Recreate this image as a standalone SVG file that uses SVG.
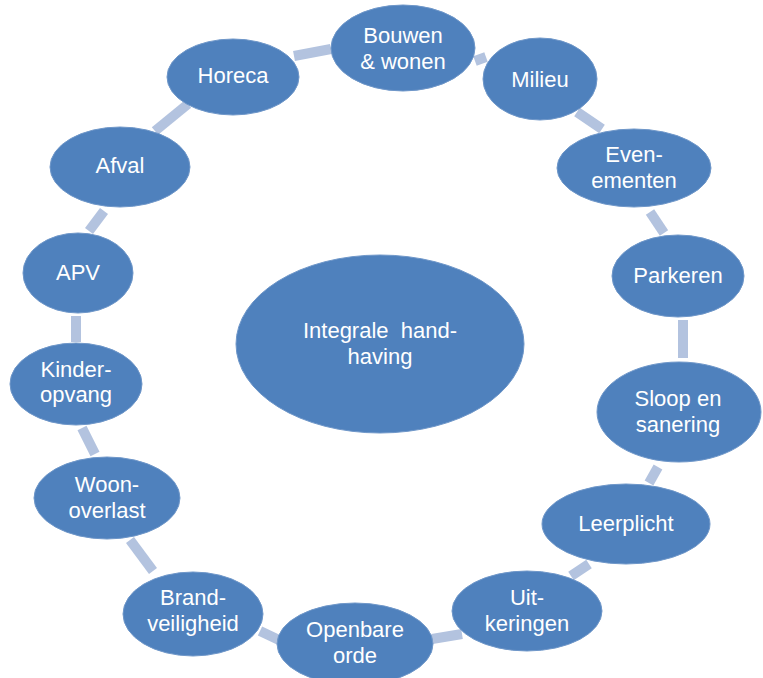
<svg xmlns="http://www.w3.org/2000/svg" width="763" height="678" viewBox="0 0 763 678">
<style>
.n{fill:#4f81bd;stroke:#6f97c9;stroke-width:1}
.t{fill:#ffffff;font-family:"Liberation Sans",Arial,sans-serif;font-size:22px;text-anchor:middle;white-space:pre}
.c line{stroke:#b3c3df;stroke-width:10;stroke-linecap:butt}
</style>
<rect width="763" height="678" fill="#ffffff"/>
<g class="c" id="connectors">
<line x1="294" y1="56" x2="331" y2="49"/>
<line x1="475" y1="61" x2="486" y2="57"/>
<line x1="577" y1="112" x2="602" y2="129"/>
<line x1="650" y1="212" x2="664" y2="233"/>
<line x1="683" y1="320" x2="683" y2="358"/>
<line x1="658" y1="467" x2="649" y2="483"/>
<line x1="589" y1="564" x2="571" y2="576"/>
<line x1="432" y1="639" x2="462" y2="634"/>
<line x1="260" y1="631" x2="279" y2="640"/>
<line x1="130" y1="540" x2="153" y2="571"/>
<line x1="82" y1="428" x2="95" y2="454"/>
<line x1="76" y1="316" x2="76" y2="342"/>
<line x1="89" y1="231" x2="104" y2="211"/>
<line x1="155" y1="131" x2="188" y2="104"/>
</g>
<g id="center"><ellipse class="n" cx="380" cy="344" rx="144" ry="89"/><text class="t" x="380" y="338">Integrale  hand-</text><text class="t" x="380" y="364">having</text></g>
<g id="bouwen"><ellipse class="n" cx="403" cy="48" rx="72" ry="43"/><text class="t" x="403" y="43">Bouwen</text><text class="t" x="403" y="69">&amp; wonen</text></g>
<g id="milieu"><ellipse class="n" cx="540" cy="79" rx="57" ry="41"/><text class="t" x="540" y="87">Milieu</text></g>
<g id="evenementen"><ellipse class="n" cx="634" cy="168" rx="77" ry="39"/><text class="t" x="634" y="162">Even-</text><text class="t" x="634" y="188">ementen</text></g>
<g id="parkeren"><ellipse class="n" cx="678" cy="276" rx="66" ry="41"/><text class="t" x="678" y="283">Parkeren</text></g>
<g id="sloop"><ellipse class="n" cx="679" cy="412" rx="82" ry="50"/><text class="t" x="678" y="406">Sloop en</text><text class="t" x="678" y="432">sanering</text></g>
<g id="leerplicht"><ellipse class="n" cx="626" cy="524" rx="84" ry="40"/><text class="t" x="626" y="531">Leerplicht</text></g>
<g id="uitkeringen"><ellipse class="n" cx="527" cy="611" rx="75" ry="40"/><text class="t" x="527" y="605">Uit-</text><text class="t" x="527" y="631">keringen</text></g>
<g id="openbare"><ellipse class="n" cx="355" cy="644" rx="78" ry="41"/><text class="t" x="355" y="637">Openbare</text><text class="t" x="355" y="663">orde</text></g>
<g id="brandveiligheid"><ellipse class="n" cx="193" cy="614" rx="70" ry="42"/><text class="t" x="193" y="605">Brand-</text><text class="t" x="193" y="631">veiligheid</text></g>
<g id="woonoverlast"><ellipse class="n" cx="107" cy="498" rx="73" ry="41"/><text class="t" x="107" y="492">Woon-</text><text class="t" x="107" y="518">overlast</text></g>
<g id="kinderopvang"><ellipse class="n" cx="76" cy="384" rx="66" ry="41"/><text class="t" x="76" y="377">Kinder-</text><text class="t" x="76" y="402">opvang</text></g>
<g id="apv"><ellipse class="n" cx="78" cy="273" rx="55" ry="40"/><text class="t" x="78" y="280">APV</text></g>
<g id="afval"><ellipse class="n" cx="120" cy="167" rx="70" ry="40"/><text class="t" x="120" y="173">Afval</text></g>
<g id="horeca"><ellipse class="n" cx="233" cy="77" rx="66" ry="38"/><text class="t" x="233" y="83">Horeca</text></g>
</svg>
